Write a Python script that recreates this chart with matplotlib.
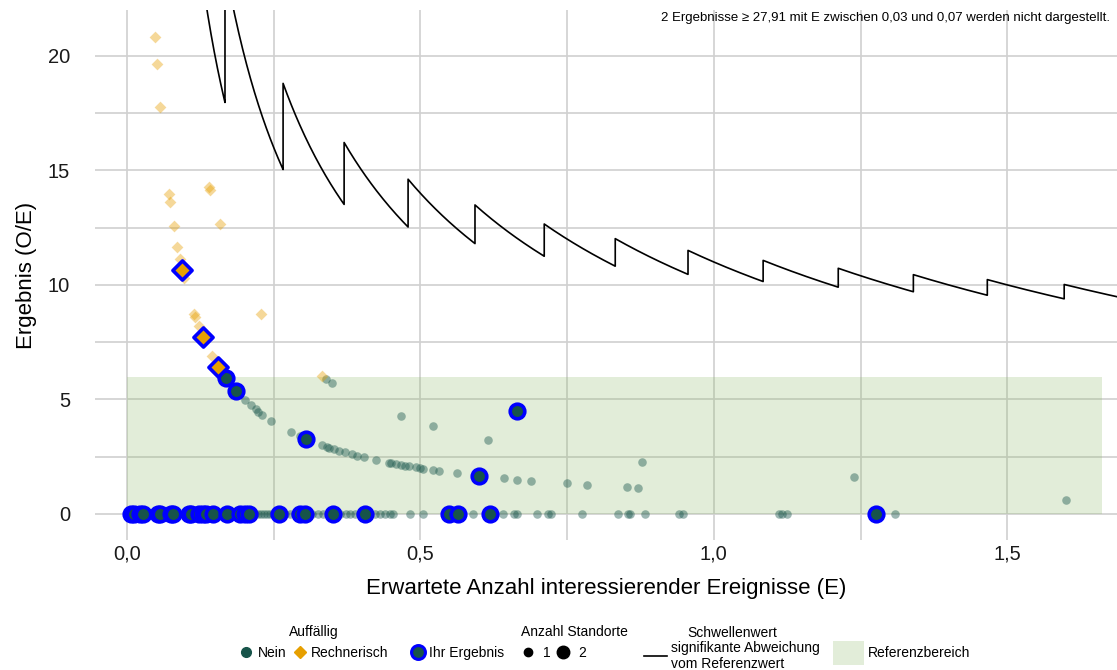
import matplotlib
matplotlib.use("Agg")
import matplotlib.pyplot as plt
import numpy as np
from matplotlib.lines import Line2D
from matplotlib.patches import Patch

plt.rcParams['font.family'] = ['Liberation Sans', 'DejaVu Sans']

# Daten: erwartete Anzahl (E) und beobachtete Anzahl (O) je Standort
nein_E = [0.201, 0.2105, 0.219, 0.224, 0.2305, 0.246, 0.280, 0.294, 0.332, 0.340,
          0.345, 0.353, 0.362, 0.371, 0.383, 0.392, 0.404, 0.424, 0.446, 0.450,
          0.459, 0.467, 0.474, 0.481, 0.492, 0.500, 0.505, 0.521, 0.532, 0.562,
          0.643, 0.665, 0.688, 0.749, 0.784, 0.852, 0.871, 1.600,
          0.339, 0.349, 0.467, 0.521, 0.616, 0.877, 1.238,
          0.213, 0.218, 0.223, 0.228, 0.234, 0.239, 0.244, 0.249, 0.254, 0.269,
          0.278, 0.286, 0.315, 0.326, 0.334, 0.363, 0.373, 0.380, 0.389, 0.397,
          0.423, 0.431, 0.440, 0.448, 0.454, 0.482, 0.505, 0.590, 0.641, 0.659,
          0.665, 0.698, 0.718, 0.722, 0.775, 0.837, 0.853, 0.857, 0.883, 0.940,
          0.948, 1.111, 1.117, 1.125, 1.308]
nein_O = [1] * 38 + [2] * 7 + [0] * 45

rech_E = [0.048, 0.0509, 0.0563, 0.0716, 0.0734, 0.0795, 0.0858, 0.0897, 0.097,
          0.1145, 0.1163, 0.122, 0.1447,
          0.140, 0.1413, 0.158, 0.229, 0.332]
rech_O = [1] * 13 + [2] * 5

ihr_nein_E = [0.168, 0.1857, 0.305, 0.599, 0.665,
              0.007, 0.012, 0.022, 0.027, 0.053, 0.056, 0.075, 0.078, 0.106, 0.109,
              0.123, 0.130, 0.135, 0.147, 0.170, 0.193, 0.201, 0.208, 0.259, 0.295,
              0.303, 0.351, 0.406, 0.549, 0.564, 0.619, 1.277]
ihr_nein_O = [1, 1, 1, 1, 3] + [0] * 27

ihr_rech_E = [0.0939, 0.1296, 0.1555]
ihr_rech_O = [1, 1, 1]

# Schwellenwert: Sprungstellen (E) und zugehörige Fallzahl O je Abschnitt
schwelle_sprung_E = [0.167, 0.266, 0.370, 0.479, 0.593, 0.711, 0.832, 0.956,
                     1.084, 1.212, 1.340, 1.466, 1.597]
schwelle_O = [3, 4, 5, 6, 7, 8, 9, 10, 11, 12, 13, 14, 15, 16]

ref_oben = 6
ref_E_max = 1.662

x_ticks = [0, 0.5, 1.0, 1.5]
x_tick_labels = ["0,0", "0,5", "1,0", "1,5"]
y_ticks = [0, 5, 10, 15, 20]

teal = "#17544a"
orange = "#e69f00"
blau = "#0000ff"
gruen = "#8fb86a"

fig = plt.figure(figsize=(11.17, 6.70), dpi=100)
ax = fig.add_axes([95 / 1117, 130 / 670, 1 - 95 / 1117, 530 / 670])
ax.set_xlim(-0.0545, 1.687)
ax.set_ylim(-1.135, 22.0)

for s in ax.spines.values():
    s.set_visible(False)
ax.set_xticks(x_ticks)
ax.set_xticklabels(x_tick_labels)
ax.set_yticks(y_ticks)
ax.set_xticks([0.25, 0.75, 1.25], minor=True)
ax.set_yticks([2.5, 7.5, 12.5, 17.5], minor=True)
ax.grid(True, which='both', color='#d0d0d0', lw=1.2)
ax.set_axisbelow(True)
ax.tick_params(which='both', length=0, labelsize=14.5, labelcolor='#1a1a1a')
ax.tick_params(axis='x', pad=3)
ax.tick_params(axis='y', pad=18)

# Referenzbereich
ax.fill_between([0, ref_E_max], 0, ref_oben, color=gruen, alpha=0.25, lw=0, zorder=1)

# Schwellenwert-Kurve
grenzen = [0.12] + schwelle_sprung_E + [1.69]
kx, ky = [], []
for i, o in enumerate(schwelle_O):
    e = np.linspace(grenzen[i], grenzen[i + 1], 60)
    kx.extend(e)
    ky.extend(o / e)
ax.plot(kx, ky, color='black', lw=1.2, zorder=3)

# Punkte
ne = np.array(nein_E); no = np.array(nein_O)
ax.scatter(ne, no / ne, s=38, color=teal, alpha=0.42, lw=0, zorder=4)
re = np.array(rech_E); ro = np.array(rech_O)
ax.scatter(re, ro / re, s=36, marker='D', color=orange, alpha=0.4, lw=0, zorder=4)

ie = np.array(ihr_nein_E); io = np.array(ihr_nein_O)
ax.scatter(ie, io / ie, s=110, color=teal, edgecolors=blau, linewidths=2.6, zorder=5)
ire = np.array(ihr_rech_E); iro = np.array(ihr_rech_O)
ax.scatter(ire, iro / ire, s=95, marker='D', color=orange, edgecolors=blau,
           linewidths=2.6, zorder=5)

ax.set_xlabel("Erwartete Anzahl interessierender Ereignisse (E)", fontsize=16,
              color='black', labelpad=11)
ax.set_ylabel("Ergebnis (O/E)", fontsize=16, color='black', labelpad=8)

fig.text(1110 / 1117, 1 - 18 / 670,
         "2 Ergebnisse \u2265 27,91 mit E zwischen 0,03 und 0,07 werden nicht dargestellt.",
         ha='right', va='center', fontsize=9.5)


def legende(handles, labels, anchor, loc, **extra):
    kw = dict(frameon=False, fontsize=10, title_fontsize=10, handletextpad=0.3,
              columnspacing=0.6, borderaxespad=0, borderpad=0, labelspacing=0.5,
              handlelength=1.0)
    kw.update(extra)
    fig.legend(handles=handles, labels=labels, loc=loc,
               bbox_to_anchor=(anchor[0] / 1117, 1 - anchor[1] / 670), **kw)


h1 = [Line2D([], [], ls='', marker='o', ms=7, color=teal),
      Line2D([], [], ls='', marker='D', ms=6, color=orange)]
legende(h1, ["Nein", "Rechnerisch"], (314, 625), 'upper center',
        title="Auffällig", ncol=2, columnspacing=0.5)

h2 = [Line2D([], [], ls='', marker='o', ms=10, color=teal, mec=blau, mew=2.2)]
legende(h2, ["Ihr Ergebnis"], (411, 653), 'center left')

h3 = [Line2D([], [], ls='', marker='o', ms=6, color='black'),
      Line2D([], [], ls='', marker='o', ms=9, color='black')]
legende(h3, ["1", "2"], (521, 625), 'upper left', title="Anzahl Standorte",
        ncol=2, alignment='left', handletextpad=0.6, columnspacing=0.4)

h4 = [Line2D([], [], color='black', lw=1.2)]
legende(h4, ["signifikante Abweichung\nvom Referenzwert"], (732, 626),
        'upper center', title="Schwellenwert", handlelength=1.6, labelspacing=0.05)

h5 = [Patch(facecolor=gruen, alpha=0.25, lw=0)]
legende(h5, ["Referenzbereich"], (833, 653), 'center left',
        handleheight=2.2, handlelength=2.2)

fig.savefig("out.png", dpi=100)
